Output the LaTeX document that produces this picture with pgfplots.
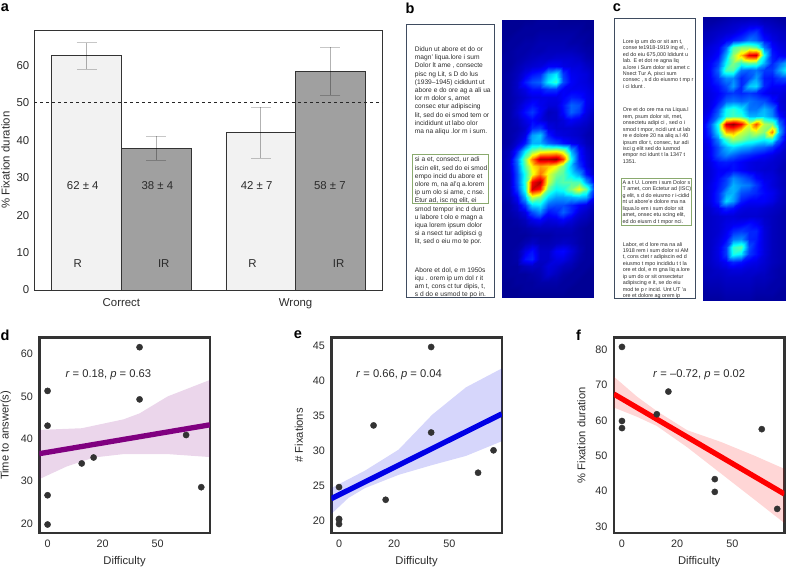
\documentclass[border=0pt]{standalone}
\usepackage{pgfplots}
\pgfplotsset{compat=1.18}
\usepackage{fontspec}
\setmainfont{Liberation Sans}
\definecolor{txt}{HTML}{2B2B2B}
\definecolor{frm}{HTML}{333333}
\definecolor{boxc}{HTML}{3F4C60}
\definecolor{grn}{HTML}{8AAA6E}
\definecolor{dots}{HTML}{333333}
\newcommand{\fs}[2]{\fontsize{#1}{#2}\selectfont}
\pgfplotsset{
  lowaxis/.style={
    scale only axis, anchor=south west, width=170.5pt, height=195.3pt,
    axis line style={draw=frm,line width=2.6pt},
    tick style={draw=none}, major tick length=0pt,
    xtick={0,1,2}, xticklabels={0,20,50},
    xlabel={Difficulty},
    tick label style={font=\fs{10.8}{13},text=txt},
    label style={font=\fs{11.2}{13},text=txt},
    /pgf/number format/assume math mode=true,
    xticklabel style={yshift=-3pt},
    yticklabel style={xshift=-3pt},
    xlabel shift=2.5pt,
    ylabel shift=3pt,
    clip=true,
  },
  heat/.style={
    scale only axis, anchor=south west, hide axis, view={0}{90},
    colormap/jet, point meta min=0, point meta max=100, y dir=reverse,
  },
  pts/.style={only marks, mark=*, mark size=3.1pt, mark options={draw=dots,fill=dots}},
}
\begin{document}
\begin{tikzpicture}[x=1pt,y=1pt]
\useasboundingbox (0,0) rectangle (786,568);
\definecolor{rfill}{HTML}{F2F2F2}
\definecolor{irfill}{HTML}{A0A0A0}

% ---------- panel a
\begin{axis}[
  at={(34.3pt,278pt)}, anchor=south west, scale only axis, width=348.4pt, height=259.7pt,
  xmin=-0.5, xmax=1.5, ymin=0, ymax=69.4,
  axis line style={draw=frm,line width=0.7pt},
  xtick={0,1}, xticklabels={Correct,Wrong},
  ytick={0,10,20,30,40,50,60},
  xtick pos=bottom, ytick pos=left,
  xtick style={draw=frm,line width=0.6pt}, ytick style={draw=none},
  major tick length=2.5pt,
  tick label style={font=\fs{11.4}{13},text=txt},
  xticklabel style={yshift=-5.5pt},
  yticklabel style={xshift=-1.5pt},
  /pgf/number format/assume math mode=true,
  ylabel={\% Fixation duration},
  label style={font=\fs{11.4}{13},text=txt},
  ylabel shift=0pt,
]
\addplot[ybar, bar width=0.4, bar shift=-0.2, fill=rfill, draw=frm, line width=0.7pt]
  coordinates {(0,62.6) (1,42.2)};
\addplot[ybar, bar width=0.4, bar shift=0.2, fill=irfill, draw=frm, line width=0.7pt]
  coordinates {(0,37.9) (1,58.3)};
\addplot[draw=none, mark=none,
  error bars/.cd, y dir=both, y explicit,
  error bar style={draw=black,opacity=0.3,line width=0.6pt},
  error mark options={rotate=90,mark size=10pt,draw=black,opacity=0.22,line width=0.6pt}]
  coordinates {(-0.2,62.6) += (0,3.5) -= (0,3.5)
               (0.2,37.9) += (0,3.2) -= (0,3.2)
               (0.8,42.2) += (0,6.7) -= (0,7.0)
               (1.2,58.3) += (0,6.6) -= (0,6.3)};
\addplot[black!85, dashed, line width=0.5pt] coordinates {(-0.5,50.1) (1.5,50.1)};
\foreach \xx/\tt in {-0.222/62 ± 4, 0.2065/38 ± 4, 0.776/42 ± 7, 1.197/58 ± 7}{
  \edef\tmp{\noexpand\node[font=\noexpand\fs{11.4}{13},text=txt] at (axis cs:\xx,27.8) {\tt};}\tmp
}
\foreach \xx/\tt in {-0.25/R, 0.243/IR, 0.753/R, 1.247/IR}{
  \edef\tmp{\noexpand\node[font=\noexpand\fs{11.4}{13},text=txt] at (axis cs:\xx,6.95) {\tt};}\tmp
}
\end{axis}

% ---------- panel b text
\draw[boxc,line width=0.8pt] (406,543.7) rectangle (494.3,270.3);
\node[anchor=north west,inner sep=0pt,align=left,text=txt,font=\fs{6.65}{8.2}] at (414.7,521.5) {Didun ut abore et do or\\magn' liqua.lore i sum\\Dolor lt ame , consecte\\pisc ng Lit, s D do lus\\(1939–1945) cididunt ut\\abore e do ore ag a ali ua\\lor m dolor s, amet\\consec etur adipiscing\\lit, sed do ei smod tem or\\incididunt ut labo olor\\ma na aliqu .lor m i sum.};
\node[anchor=north west,inner sep=0pt,align=left,text=txt,font=\fs{6.65}{8.2}] at (414.7,411.2) {si a et, consect, ur adi\\iscin elit, sed do ei smod\\empo incid du abore et\\olore m, na al'q a.lorem\\ip um olo si ame, c nse.\\Etur ad, isc ng elit, ei\\smod tempor inc d dunt\\u labore t olo e magn a\\iqua lorem ipsum dolor\\si a nsect tur adipisci g\\lit, sed o eiu mo te por.};
\node[anchor=north west,inner sep=0pt,align=left,text=txt,font=\fs{6.65}{8.2}] at (414.7,300.8) {Abore et dol, e m 1950s\\iqu . orem ip um dol r it\\am t, cons ct tur dipis, t,\\s d do e usmod te po in.};
\draw[grn,line width=0.8pt] (412.7,414) rectangle (488,364.7);

% ---------- panel b heatmap
\begin{axis}[heat, at={(501.7pt,271pt)}, width=92.3pt, height=277pt, xmin=0, xmax=12, ymin=0, ymax=36]
\addplot3[surf, shader=interp, mesh/cols=13, point meta=explicit]
 table[row sep=\\, header=false, x expr={\coordindex-13*floor((\coordindex+0.5)/13)}, y expr={floor((\coordindex+0.5)/13)}, z expr=0, meta index=0] {
2\\2\\2\\2\\2\\3\\3\\3\\2\\2\\2\\2\\2\\
2\\2\\2\\3\\3\\3\\3\\3\\3\\3\\3\\2\\2\\
2\\2\\3\\3\\3\\4\\4\\4\\4\\4\\3\\3\\2\\
2\\3\\3\\4\\4\\5\\5\\5\\5\\4\\4\\3\\3\\
2\\3\\4\\4\\5\\5\\6\\6\\6\\6\\5\\4\\3\\
3\\3\\4\\5\\6\\7\\7\\8\\8\\8\\7\\5\\4\\
3\\3\\5\\7\\8\\9\\12\\12\\10\\9\\9\\7\\5\\
3\\4\\6\\10\\14\\16\\30\\36\\18\\11\\10\\9\\6\\
3\\4\\7\\15\\20\\22\\36\\42\\20\\12\\10\\9\\7\\
3\\4\\7\\10\\14\\14\\18\\18\\12\\11\\11\\10\\8\\
3\\4\\6\\8\\10\\10\\10\\10\\12\\15\\14\\11\\9\\
3\\4\\7\\11\\14\\11\\9\\9\\14\\22\\20\\11\\8\\
3\\4\\8\\14\\18\\12\\6\\7\\13\\22\\18\\10\\6\\
3\\4\\6\\10\\13\\10\\7\\7\\9\\12\\10\\8\\5\\
3\\4\\5\\8\\16\\18\\10\\8\\8\\8\\7\\6\\4\\
3\\4\\6\\10\\28\\32\\15\\10\\9\\8\\7\\5\\4\\
3\\4\\8\\15\\30\\30\\22\\18\\14\\11\\9\\6\\4\\
4\\6\\16\\36\\50\\58\\60\\62\\56\\30\\14\\8\\5\\
4\\7\\24\\50\\75\\95\\95\\98\\82\\38\\15\\9\\5\\
4\\7\\22\\46\\64\\72\\68\\62\\50\\32\\18\\10\\5\\
4\\6\\20\\40\\60\\76\\60\\50\\46\\36\\28\\14\\6\\
4\\6\\20\\42\\88\\96\\58\\44\\46\\46\\45\\28\\12\\
4\\6\\18\\40\\92\\85\\48\\38\\40\\50\\62\\48\\18\\
4\\5\\12\\30\\58\\50\\34\\28\\28\\30\\32\\30\\12\\
3\\4\\8\\18\\34\\36\\22\\20\\20\\16\\12\\10\\6\\
3\\4\\6\\10\\20\\26\\14\\16\\22\\16\\9\\7\\4\\
3\\3\\4\\6\\10\\12\\9\\10\\12\\9\\6\\5\\3\\
3\\3\\3\\4\\5\\6\\6\\6\\6\\6\\4\\3\\3\\
3\\3\\3\\3\\4\\4\\4\\5\\5\\5\\4\\3\\3\\
3\\3\\3\\5\\7\\5\\5\\6\\7\\6\\4\\3\\3\\
3\\3\\4\\10\\14\\7\\7\\12\\13\\9\\5\\3\\3\\
3\\3\\4\\14\\16\\7\\7\\10\\10\\7\\4\\3\\3\\
3\\3\\3\\6\\7\\6\\9\\8\\6\\5\\3\\3\\2\\
2\\3\\3\\3\\4\\5\\8\\6\\4\\3\\3\\2\\2\\
2\\2\\3\\3\\3\\4\\4\\4\\3\\3\\2\\2\\2\\
2\\2\\2\\3\\3\\3\\3\\3\\3\\2\\2\\2\\2\\
2\\2\\2\\2\\2\\2\\2\\2\\2\\2\\2\\2\\2\\
};
\end{axis}

% ---------- panel c text
\draw[boxc,line width=0.8pt] (614,550) rectangle (695.7,269.7);
\node[anchor=north west,inner sep=0pt,align=left,text=txt,font=\fs{5.4}{6.43}] at (622.7,528.7) {Lore ip um do or sit am t,\\conse te1918-1919 ing el, ,\\ed do eiu 675,000 ldidunt u\\lab. E et dot re agna liq\\a.lore i Sum dolor sit amet c\\Nsect Tur A, pisci sum\\consec , s d do eiusmo t mp r\\i ci ldunt .};
\node[anchor=north west,inner sep=0pt,align=left,text=txt,font=\fs{5.4}{6.43}] at (622.7,460.2) {Ore et do ore ma na Liqua.l\\rem, psum dolor sit, rnet,\\onsectetu adipi ci , sed o i\\smod t mpor, ncidi unt ut lab\\re e dolore 20 na aliq a.l 40\\ipsum dlor t, consec, tur adi\\isci g elit sed do iusmod\\empor nci idunt t la 1347 t\\1351.};
\node[anchor=north west,inner sep=0pt,align=left,text=txt,font=\fs{5.4}{6.43}] at (622.3,387.6) {A a t U. Lorem i sum Dolor s\\T amet, con Ectetur ad (ISC)\\g elit, s d do eiusmo r i-cidid\\nt ut abore'e dolore ma na\\liqua.lo em i sum dolor sit\\amet,, onsec etu scing elit,\\ed do eiusm d t mpor nci.};
\node[anchor=north west,inner sep=0pt,align=left,text=txt,font=\fs{5.4}{6.43}] at (622.7,326) {Labor, et d lore ma na ali\\1918 rem i sum dolor si AM\\t, cons ctet r adipiscin ed d\\eiusmo t mpo incididu t t la\\ore et dol, e m gna liq a.lore\\ip um do or sit onsectetur\\adipiscing e it, se do eiu\\mod te p r incid. Unt UT 'a\\ore et dolore ag orem ip};
\draw[grn,line width=0.8pt] (621.3,389.7) rectangle (691,342.7);

% ---------- panel c heatmap
\begin{axis}[heat, at={(702.7pt,268pt)}, width=83.3pt, height=283.3pt, xmin=0, xmax=10.87, ymin=0, ymax=36.96]
\addplot3[surf, shader=interp, mesh/cols=12, point meta=explicit]
 table[row sep=\\, header=false, x expr={\coordindex-12*floor((\coordindex+0.5)/12)}, y expr={floor((\coordindex+0.5)/12)}, z expr=0, meta index=0] {
3\\3\\3\\4\\5\\5\\5\\5\\4\\4\\3\\3\\
4\\4\\5\\6\\7\\8\\9\\9\\7\\6\\5\\4\\
5\\6\\7\\8\\9\\12\\16\\18\\10\\8\\7\\6\\
6\\7\\9\\12\\15\\18\\24\\22\\14\\10\\8\\7\\
7\\9\\11\\22\\44\\50\\50\\46\\24\\13\\10\\8\\
8\\10\\13\\30\\52\\68\\90\\92\\38\\15\\12\\11\\
9\\12\\18\\38\\50\\42\\48\\46\\30\\16\\22\\30\\
9\\13\\22\\45\\46\\24\\22\\24\\18\\18\\28\\38\\
9\\12\\18\\26\\26\\16\\20\\28\\15\\14\\18\\20\\
9\\11\\14\\20\\28\\16\\32\\34\\16\\12\\12\\10\\
8\\10\\12\\16\\18\\16\\18\\16\\12\\10\\10\\8\\
8\\10\\14\\22\\24\\22\\24\\22\\20\\14\\9\\7\\
8\\11\\20\\38\\42\\36\\24\\24\\30\\24\\10\\7\\
9\\14\\24\\40\\44\\42\\30\\30\\32\\26\\14\\8\\
10\\20\\40\\92\\98\\88\\60\\80\\55\\50\\24\\10\\
10\\18\\36\\70\\72\\58\\52\\58\\50\\75\\30\\10\\
9\\14\\26\\44\\54\\50\\44\\42\\38\\42\\22\\9\\
8\\12\\20\\30\\34\\30\\28\\24\\22\\18\\12\\7\\
8\\12\\20\\25\\22\\18\\16\\14\\12\\10\\8\\6\\
7\\10\\14\\15\\14\\12\\10\\9\\9\\8\\7\\5\\
7\\9\\12\\12\\14\\12\\10\\9\\8\\8\\6\\5\\
7\\9\\13\\18\\26\\22\\18\\13\\10\\9\\7\\5\\
7\\10\\14\\20\\30\\26\\24\\18\\12\\9\\7\\5\\
7\\10\\16\\28\\30\\20\\18\\16\\13\\11\\8\\5\\
7\\10\\16\\34\\28\\15\\12\\12\\12\\10\\7\\5\\
6\\8\\11\\16\\14\\10\\9\\9\\8\\7\\6\\4\\
6\\7\\8\\9\\9\\8\\8\\8\\7\\6\\5\\4\\
6\\7\\8\\10\\11\\12\\14\\12\\8\\6\\5\\4\\
6\\7\\8\\11\\16\\18\\16\\16\\9\\6\\5\\4\\
6\\7\\9\\13\\24\\26\\16\\15\\9\\6\\5\\4\\
6\\7\\10\\18\\42\\46\\20\\14\\9\\6\\5\\4\\
6\\7\\10\\18\\40\\36\\18\\14\\9\\6\\5\\4\\
6\\7\\9\\12\\16\\14\\11\\10\\8\\6\\5\\4\\
5\\6\\7\\8\\9\\9\\8\\8\\7\\5\\4\\4\\
5\\6\\6\\7\\7\\7\\7\\6\\6\\5\\4\\3\\
4\\5\\5\\6\\6\\6\\6\\5\\5\\4\\4\\3\\
3\\4\\4\\5\\5\\5\\5\\4\\4\\4\\3\\3\\
3\\3\\3\\4\\4\\4\\4\\3\\3\\3\\3\\3\\
};
\end{axis}

% ---------- panel d
\begin{axis}[lowaxis, at={(39.3pt,35pt)}, xmin=-0.15, xmax=2.945, ymin=17.8, ymax=63.84,
  ytick={20,30,40,50,60}, ylabel={Time to answer(s)}]
\addplot[draw=none, fill=violet, fill opacity=0.16]
  coordinates {(-0.15,30.5) (0.35,33.5) (0.84,35.6) (1.38,36.4) (2.18,36.4) (2.95,35.7)
               (2.95,53.9) (2.18,50) (1.67,46) (1.38,44.6) (0.62,42.5) (-0.15,42.1)};
\addplot[draw={rgb,255:red,128;green,0;blue,128}, line width=5.3pt] coordinates {(-0.15,36.5) (2.945,43.3)};
\addplot[pts] coordinates {(0,51.3) (0,43.1) (0,26.7) (0,19.8) (0.62,34.2) (0.836,35.6) (1.67,61.6) (1.67,49.3) (2.515,40.9) (2.79,28.6)};
\node[font=\fs{11.2}{13},text=txt] at (rel axis cs:0.405,0.81) {\textit{r} = 0.18, \textit{p} = 0.63};
\end{axis}

% ---------- panel e
\begin{axis}[lowaxis, at={(331.3pt,35pt)}, xmin=-0.14, xmax=2.95, ymin=18.29, ymax=46.19,
  ytick={20,25,30,35,40,45}, ylabel={\# Fixations}]
\addplot[draw=none, fill={rgb,255:red,0;green,0;blue,230}, fill opacity=0.16]
  coordinates {(-0.14,21) (0.17,23.3) (0.47,24.7) (1.08,26.6) (1.69,28) (2.3,29.3) (2.95,31.4)
               (2.95,41.8) (2.3,39.1) (1.69,35.2) (1.08,30.2) (0.47,27.2) (-0.14,24.7)};
\addplot[draw={rgb,255:red,0;green,0;blue,230}, line width=5.3pt] coordinates {(-0.14,23.2) (2.95,35.3)};
\addplot[pts] coordinates {(0,24.85) (0,20.3) (0,20.2) (0,19.57) (0.626,33.66) (0.845,23.04) (1.67,44.86) (1.67,32.65) (2.52,26.9) (2.80,30.1)};
\node[font=\fs{11.2}{13},text=txt] at (rel axis cs:0.397,0.81) {\textit{r} = 0.66, \textit{p} = 0.04};
\end{axis}

% ---------- panel f
\begin{axis}[lowaxis, at={(613.9pt,35pt)}, xmin=-0.146, xmax=2.94, ymin=28.2, ymax=83.3,
  ytick={30,40,50,60,70,80}, ylabel={\% Fixation duration}]
\addplot[draw=none, fill=red, fill opacity=0.16]
  coordinates {(-0.146,63.6) (0.27,61) (0.63,58.4) (1.18,52.4) (1.79,45) (2.4,37.6) (2.94,31)
               (2.94,46.3) (2.4,50) (1.79,53.9) (1.18,57.2) (0.63,62.6) (0.27,66.7) (-0.146,72.3)};
\addplot[draw=red, line width=5.3pt] coordinates {(-0.146,67.4) (2.94,39.2)};
\addplot[pts] coordinates {(0,80.7) (0,59.8) (0,57.8) (0.63,61.7) (0.84,68.1) (1.68,43.4) (1.68,39.8) (2.53,57.5) (2.81,35)};
\node[font=\fs{11.2}{13},text=txt] at (rel axis cs:0.50,0.81) {\textit{r} = –0.72, \textit{p} = 0.02};
\end{axis}

% ---------- panel letters
\foreach \xx/\yy/\ll in {5/560/a, 410/560/b, 617/560/c, 5/233/d, 298/233/e, 578.5/233/f}{
  \node[font=\bfseries\fs{14.5}{16},text=black,inner sep=0pt] at (\xx,\yy) {\ll};
}
\end{tikzpicture}
\end{document}
